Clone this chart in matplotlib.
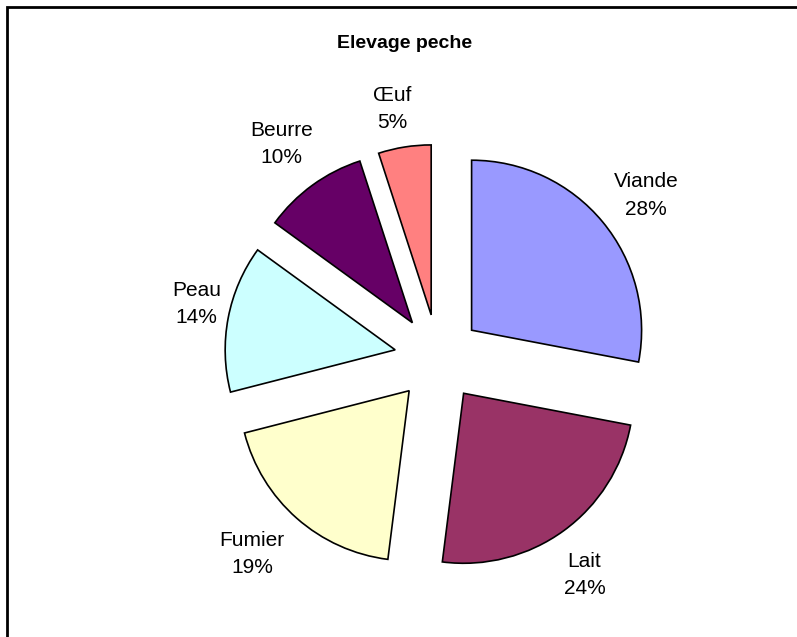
import matplotlib.pyplot as plt
from matplotlib.patches import Rectangle

# data
categories = ['Viande', 'Lait', 'Fumier', 'Peau', 'Beurre', 'Œuf']
values = [28, 24, 19, 14, 10, 5]
colors = ['#9999FF', '#993366', '#FFFFCC', '#CCFFFF', '#660066', '#FF8080']

# small per-label nudges (pixels) to match the original label placement
label_nudge = [(7, -4), (-7, -6), (-13, 0), (15, 5), (-3, 3), (-5, -9)]

plt.rcParams['font.family'] = ['Liberation Sans', 'DejaVu Sans']

fig = plt.figure(figsize=(7.97, 6.37), dpi=100)
ax = fig.add_axes([0, 0, 1, 1])

labels = [f'{c}\n{v}%' for c, v in zip(categories, values)]
wedges, texts = ax.pie(values, labels=labels, colors=colors,
                       startangle=90, counterclock=False,
                       center=(438, 279), radius=170,
                       explode=[43.6] * len(values),
                       labeldistance=1.28, frame=True,
                       wedgeprops=dict(edgecolor='black', linewidth=1.2),
                       textprops=dict(fontsize=15, linespacing=1.55))
for t, (dx, dy) in zip(texts, label_nudge):
    x, y = t.get_position()
    t.set_position((x + dx, y + dy))
    t.set_ha('center')
    t.set_va('center')

ax.set_xlim(0, 797)
ax.set_ylim(0, 637)
ax.axis('off')

ax.text(405, 637 - 43, 'Elevage peche', ha='center', va='center',
        fontsize=14, fontweight='bold')

# chart border (only top and left visible in the original)
fig.patches.append(Rectangle((7 / 797, -0.05), 1.1, 1 - 7 / 637 + 0.05,
                             transform=fig.transFigure, fill=False,
                             edgecolor='black', linewidth=2))

fig.savefig('out.png', dpi=100)
